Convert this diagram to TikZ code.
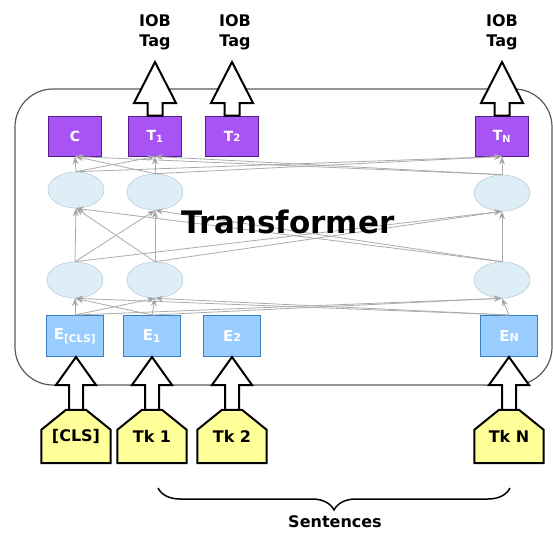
\documentclass[tikz,border=0pt]{standalone}
\usepackage{fontspec}
\setmainfont{DejaVu Sans}
\usetikzlibrary{arrows.meta,shapes.geometric,decorations.pathreplacing,calc,backgrounds}

\definecolor{tagpurple}{RGB}{168,84,245}
\definecolor{tagedge}{RGB}{86,30,138}
\definecolor{embblue}{RGB}{153,204,255}
\definecolor{embedge}{RGB}{58,125,190}
\definecolor{cellfill}{RGB}{222,238,247}
\definecolor{celledge}{RGB}{185,205,218}
\definecolor{tokyellow}{RGB}{255,255,153}

% block arrow pointing up: from, to, head length, head half width, shaft half width
\newcommand{\blockup}[5]{%
  \draw[hollow] let \p1=(#1), \p2=(#2) in
    (\x1-#5,\y1) -- (\x1-#5,\y2-#3) -- (\x1-#4,\y2-#3) -- (\x1,\y2)
    -- (\x1+#4,\y2-#3) -- (\x1+#5,\y2-#3) -- (\x1+#5,\y1) -- cycle;}

% house outline round a token node
\newcommand{\tokenhouse}[1]{%
  \draw[tokline] let \p1=(#1.south west), \p2=(#1.north east), \p3=(#1.north) in
    (\x1,\y1) -- (\x1,\y2-20pt) -- (\x3-10pt,\y2) -- (\x3+10pt,\y2)
    -- (\x2,\y2-20pt) -- (\x2,\y1) -- cycle;}

\begin{document}
\begin{tikzpicture}[x=1pt,y=1pt,
  tagbox/.style={draw=tagedge,line width=1pt,fill=tagpurple,minimum width=53pt,minimum height=40pt,
    text=white,font=\bfseries\fontsize{14}{14}\selectfont},
  embbox/.style={draw=embedge,line width=1pt,fill=embblue,minimum width=57pt,minimum height=41pt,
    text=white,font=\bfseries\fontsize{15}{15}\selectfont},
  cell/.style={ellipse,draw=celledge,line width=0.6pt,fill=cellfill,minimum width=56pt,minimum height=36pt},
  token/.style={minimum width=69pt,minimum height=53pt,inner sep=0pt,
    font=\bfseries\fontsize{16}{16}\selectfont},
  tokline/.style={draw=black,line width=2pt,fill=tokyellow,line join=miter},
  iob/.style={align=center,font=\bfseries\fontsize{16}{20}\selectfont},
  hollow/.style={draw=black,line width=2pt,fill=white,line join=miter},
  link/.style={draw=black!33,line width=0.8pt,-{Stealth[length=8pt,width=6pt,fill=black!45]}}]

\useasboundingbox (0,0) rectangle (553,-532);

% transformer frame
\draw[black!65,line width=1.2pt,rounded corners=38pt] (15,-89) rectangle (552,-385);

% output boxes
\node[tagbox] (c)  at (75,-136)  {C};
\node[tagbox] (t1) at (155,-136) {T\textsubscript{1}};
\node[tagbox] (t2) at (232,-136) {T{\fontsize{10}{10}\selectfont 2}};
\node[tagbox] (tn) at (502,-136) {T\textsubscript{N}};

% hidden cells
\node[cell] (u0) at (76,-190)  {};
\node[cell] (u1) at (155,-192) {};
\node[cell] (un) at (502,-193) {};
\node[cell] (l0) at (75,-280)  {};
\node[cell] (l1) at (155,-280) {};
\node[cell] (ln) at (502,-280) {};

% embeddings
\node[embbox] (ecls) at (75,-336)  {E\textsubscript{[CLS]}};
\node[embbox] (e1)   at (152,-336) {E\textsubscript{1}};
\node[embbox] (e2)   at (232,-336) {E{\fontsize{11}{11}\selectfont 2}};
\node[embbox] (en)   at (509,-336) {E{\fontsize{11}{11}\selectfont N}};

% input tokens
\node[token] (tk0) at (76,-436.5)  {[CLS]};
\node[token] (tk1) at (152,-436.5) {Tk 1};
\node[token] (tk2) at (232,-436.5) {Tk 2};
\node[token] (tkn) at (509,-436.5) {Tk N};
\begin{scope}[on background layer]
  \foreach \tk in {tk0,tk1,tk2,tkn}{
    \tokenhouse{\tk}
  }
\end{scope}

% attention links
\foreach \a in {ecls,e1,en}
  \foreach \b in {l0,l1,ln}
    \draw[link] (\a.north) -- (\b.south);
\foreach \a in {l0,l1,ln}
  \foreach \b in {u0,u1,un}
    \draw[link] (\a.north) -- (\b.south);
\foreach \a in {u0,u1,un}
  \foreach \b in {c,t1,tn}
    \draw[link] (\a.north) -- (\b.south);

\node[font=\bfseries\fontsize{31}{31}\selectfont] (title) at (288,-222) {Transformer};

% tags
\node[iob] (iob1) at (155,-32) {IOB\\Tag};
\node[iob] (iob2) at (235,-32) {IOB\\Tag};
\node[iob] (iobn) at (502,-32) {IOB\\Tag};
\coordinate (tip1) at (155,-62);
\coordinate (tip2) at (232,-62);
\coordinate (tipn) at (502,-62);

\blockup{t1.north}{tip1}{41pt}{21pt}{7.5pt}
\blockup{t2.north}{tip2}{41pt}{21pt}{7.5pt}
\blockup{tn.north}{tipn}{41pt}{21pt}{7.5pt}

\blockup{tk0.north}{ecls.south}{28pt}{20pt}{7pt}
\blockup{tk1.north}{e1.south}{28pt}{20pt}{7pt}
\blockup{tk2.north}{e2.south}{28pt}{20pt}{7pt}
\blockup{tkn.north}{en.south}{28pt}{20pt}{7pt}

% sentence brace
\coordinate (b1) at (158,-488);
\coordinate (b2) at (510,-488);
\draw[decorate,decoration={brace,amplitude=22pt,mirror},line width=1.5pt] (b1) -- (b2);
\node[font=\bfseries\fontsize{16}{16}\selectfont] (sent) at (335,-522) {Sentences};

\end{tikzpicture}
\end{document}
